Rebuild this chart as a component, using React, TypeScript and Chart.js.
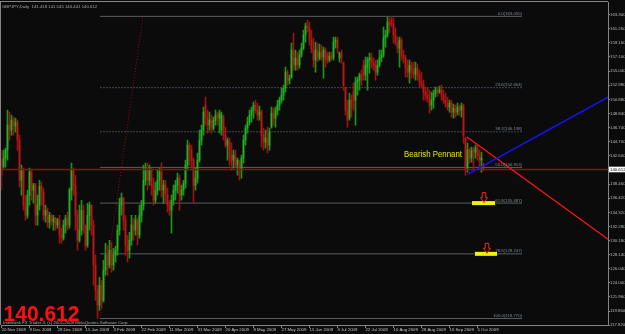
import React, { useEffect, useRef } from 'react';
import { Chart, registerables } from 'chart.js';

Chart.register(...registerables);

// ---- GBPJPY daily candles ----
const opens = [
  141.98, 141.10, 142.28, 143.45, 147.12, 146.38, 147.85, 146.97, 147.56, 144.91,
  139.04, 140.51, 135.38, 133.91, 136.85, 140.22, 137.58, 138.31, 133.91, 135.38,
  138.16, 137.29, 133.91, 134.64, 132.89, 133.91, 132.89, 133.47, 132.45, 133.18,
  130.98, 130.54, 132.45, 133.47, 132.45, 137.58, 140.51, 138.31, 133.91, 130.24,
  131.71, 134.64, 132.45, 129.51, 133.91, 135.38, 132.45, 126.58, 122.91, 120.71,
  123.64, 121.44, 125.84, 128.05, 126.58, 128.78, 126.58, 128.05, 128.78, 131.71,
  135.38, 136.41, 133.18, 129.51, 128.78, 130.24, 132.45, 131.71, 133.18, 130.98,
  133.91, 135.38, 139.04, 140.51, 139.04, 140.51, 138.31, 136.11, 137.58, 139.04,
  140.22, 137.58, 138.31, 136.85, 135.38, 134.64, 136.11, 137.58, 138.31, 139.34,
  136.85, 137.58, 138.60, 141.25, 144.18, 143.45, 141.98, 138.31, 139.34, 141.98,
  144.91, 146.38, 150.05, 148.14, 147.12, 147.85, 146.68, 147.85, 148.58, 148.14,
  146.38, 148.14, 145.65, 144.18, 144.62, 142.72, 141.98, 142.42, 141.25, 141.69,
  140.51, 142.28, 144.91, 146.68, 147.56, 148.58, 149.31, 150.05, 149.31, 148.58,
  149.02, 145.65, 144.62, 145.21, 144.18, 146.82, 148.87, 148.14, 149.31, 150.05,
  150.78, 151.52, 152.54, 154.89, 153.71, 154.15, 158.12, 155.92, 156.95, 155.92,
  157.39, 158.41, 160.32, 161.64, 161.35, 159.58, 158.12, 156.65, 158.12, 156.95,
  157.83, 157.09, 158.12, 157.39, 156.65, 157.24, 156.95, 159.29, 159.58, 156.95,
  157.68, 156.21, 152.54, 149.31, 148.14, 150.78, 151.96, 150.78, 153.42, 153.71,
  154.45, 155.92, 154.45, 155.48, 156.65, 157.09, 156.36, 155.92, 154.89, 155.92,
  156.95, 157.39, 159.88, 160.32, 162.23, 162.52, 161.93, 160.32, 159.29, 158.41,
  159.58, 157.39, 156.95, 155.48, 154.89, 155.92, 155.18, 154.59, 155.48, 154.45,
  153.42, 152.98, 151.96, 151.52, 151.08, 150.05, 150.78, 151.81, 152.25, 151.96,
  152.25, 151.52, 150.78, 150.19, 149.75, 150.34, 149.02, 149.61, 149.02, 149.75,
  149.31, 149.90, 145.21, 140.81, 143.45, 142.28, 143.45, 143.16, 143.74, 142.72,
  141.98, 141.418,
];
const highs = [
  143.45, 143.45, 143.74, 149.31, 149.02, 148.58, 148.28, 148.14, 147.85, 145.65,
  141.25, 140.81, 136.85, 137.58, 140.81, 140.51, 138.60, 138.60, 136.85, 139.04,
  138.75, 137.87, 135.38, 134.94, 134.35, 134.05, 133.91, 133.61, 133.47, 133.91,
  132.01, 133.18, 133.91, 134.35, 137.87, 141.54, 140.81, 139.78, 134.64, 135.38,
  136.11, 135.38, 132.45, 135.67, 135.82, 135.38, 133.18, 128.05, 123.64, 124.81,
  124.37, 127.31, 129.80, 129.51, 130.24, 129.95, 129.07, 129.36, 132.45, 136.41,
  137.14, 136.55, 133.91, 130.98, 131.42, 133.91, 133.47, 133.91, 133.47, 135.38,
  136.11, 141.25, 141.54, 141.54, 141.25, 140.81, 139.34, 138.75, 140.51, 140.81,
  141.54, 139.04, 139.04, 137.87, 136.11, 136.85, 138.31, 139.04, 140.07, 139.78,
  138.31, 139.04, 141.98, 144.91, 144.47, 144.18, 142.28, 140.81, 143.01, 146.38,
  147.12, 149.75, 151.22, 149.31, 149.02, 148.58, 148.28, 149.31, 149.02, 149.31,
  149.02, 148.58, 146.82, 145.21, 145.21, 144.47, 143.45, 143.45, 142.28, 141.98,
  142.72, 145.65, 147.12, 148.28, 149.31, 149.75, 150.49, 150.78, 150.34, 149.90,
  149.31, 146.68, 146.38, 146.82, 146.68, 149.75, 149.61, 149.75, 150.78, 151.22,
  152.54, 152.98, 155.62, 155.18, 154.45, 159.14, 160.61, 158.12, 157.83, 158.12,
  159.14, 161.05, 162.08, 162.52, 162.23, 161.05, 159.88, 159.29, 159.14, 158.99,
  158.85, 158.55, 158.41, 157.83, 157.83, 157.83, 160.02, 160.02, 160.02, 157.83,
  158.12, 156.36, 152.68, 150.78, 151.81, 151.52, 153.27, 154.15, 154.15, 154.74,
  155.18, 156.65, 157.09, 157.09, 157.68, 157.68, 156.95, 156.65, 156.65, 158.12,
  158.12, 161.49, 161.05, 162.95, 162.81, 163.06, 162.81, 161.35, 160.02, 160.02,
  159.88, 158.12, 157.39, 156.65, 156.65, 156.36, 156.36, 156.36, 156.06, 155.18,
  154.89, 153.71, 152.68, 152.54, 152.25, 151.96, 152.25, 152.68, 152.68, 152.83,
  152.98, 152.25, 151.81, 151.22, 150.78, 150.78, 150.19, 150.05, 150.34, 150.05,
  150.34, 150.19, 145.35, 144.47, 143.74, 143.88, 143.88, 144.18, 144.18, 143.45,
  143.16, 141.545,
];
const lows = [
  137.58, 140.81, 140.95, 141.98, 144.91, 145.65, 145.65, 146.09, 143.45, 138.01,
  136.85, 134.64, 133.18, 133.47, 135.38, 136.11, 135.67, 132.45, 132.45, 134.64,
  135.38, 133.18, 132.89, 132.15, 132.01, 132.45, 131.71, 131.71, 132.01, 129.80,
  129.80, 130.24, 131.27, 131.71, 132.01, 136.11, 136.85, 131.71, 128.78, 129.95,
  130.98, 131.27, 128.78, 129.21, 131.71, 130.98, 123.64, 121.44, 118.77, 119.97,
  120.27, 121.15, 125.11, 125.11, 126.14, 125.55, 125.84, 127.02, 128.05, 130.98,
  133.91, 131.71, 128.05, 127.02, 127.61, 129.51, 130.24, 130.98, 129.51, 130.54,
  132.89, 134.64, 138.31, 137.58, 138.31, 136.85, 135.38, 135.67, 136.85, 137.58,
  136.55, 135.67, 135.67, 134.35, 133.91, 131.27, 135.38, 136.11, 137.14, 134.64,
  136.11, 136.85, 137.87, 140.51, 141.25, 140.81, 135.67, 137.58, 138.60, 141.69,
  144.18, 145.65, 147.12, 145.94, 146.38, 145.94, 146.38, 147.12, 147.12, 145.94,
  145.65, 144.91, 143.88, 141.98, 141.25, 140.51, 140.81, 140.95, 139.78, 139.04,
  139.34, 141.54, 144.18, 145.94, 147.12, 147.56, 148.14, 148.87, 147.85, 147.85,
  143.88, 143.45, 143.74, 143.01, 143.45, 146.68, 147.12, 146.82, 148.58, 149.31,
  150.34, 150.78, 151.96, 152.98, 153.12, 154.01, 155.18, 155.18, 155.18, 155.48,
  157.09, 158.12, 159.29, 160.76, 158.85, 157.68, 155.62, 154.89, 156.36, 156.65,
  156.65, 154.01, 155.62, 156.21, 156.36, 156.65, 156.65, 158.41, 157.68, 156.36,
  156.21, 152.25, 148.58, 146.82, 147.85, 148.28, 149.31, 147.12, 151.52, 152.25,
  152.98, 153.71, 153.71, 152.25, 154.74, 155.48, 155.18, 153.71, 154.45, 155.62,
  156.36, 157.09, 158.55, 160.02, 160.61, 161.49, 159.14, 158.85, 157.68, 155.62,
  156.65, 156.21, 154.15, 154.15, 153.27, 154.01, 154.01, 153.71, 153.71, 152.68,
  152.54, 150.78, 150.78, 150.49, 148.87, 149.31, 149.61, 151.22, 151.37, 151.81,
  150.78, 150.34, 149.75, 149.31, 149.02, 148.28, 148.14, 148.28, 148.58, 148.58,
  148.28, 144.47, 139.78, 140.22, 141.54, 141.69, 140.51, 142.28, 141.98, 140.81,
  140.22, 140.441,
];
const closes = [
  139.78, 142.28, 143.45, 147.12, 146.38, 147.85, 146.97, 147.56, 144.91, 139.04,
  140.51, 135.38, 133.91, 136.85, 140.22, 137.58, 138.31, 133.91, 135.38, 138.16,
  137.29, 133.91, 134.64, 132.89, 133.91, 133.18, 133.47, 132.45, 133.18, 130.98,
  130.54, 132.45, 133.47, 132.45, 137.58, 140.51, 138.31, 133.91, 130.24, 131.71,
  134.64, 132.45, 129.51, 133.91, 135.38, 132.45, 126.58, 122.91, 120.71, 123.64,
  121.44, 125.84, 128.05, 126.58, 128.78, 126.58, 128.05, 128.78, 131.71, 135.38,
  136.41, 133.18, 129.51, 128.78, 130.24, 132.45, 131.71, 133.18, 130.98, 133.91,
  135.38, 139.04, 140.51, 139.04, 140.51, 138.31, 136.11, 137.58, 139.04, 140.22,
  137.58, 138.31, 136.85, 135.38, 134.64, 136.11, 137.58, 138.31, 139.34, 136.85,
  137.58, 138.60, 141.25, 144.18, 143.45, 141.98, 138.31, 139.34, 141.98, 144.91,
  146.38, 149.02, 148.14, 147.12, 147.85, 146.68, 147.85, 148.58, 148.14, 148.87,
  148.58, 145.65, 144.18, 144.91, 142.28, 141.69, 142.72, 141.25, 141.98, 140.81,
  142.28, 144.91, 146.68, 147.56, 148.58, 149.31, 150.05, 149.31, 148.58, 149.02,
  145.65, 144.62, 145.21, 144.18, 146.09, 148.87, 148.14, 149.31, 150.05, 150.78,
  151.52, 152.54, 154.89, 153.71, 154.01, 158.12, 155.92, 156.95, 155.92, 157.39,
  158.41, 160.32, 161.64, 161.35, 159.58, 158.12, 156.65, 158.12, 156.95, 157.83,
  157.09, 158.12, 156.65, 156.65, 157.24, 156.95, 159.29, 159.58, 158.41, 157.68,
  156.95, 152.98, 149.31, 147.85, 150.78, 149.61, 150.78, 153.42, 153.71, 154.45,
  153.71, 154.45, 155.92, 156.65, 156.95, 156.36, 155.77, 154.89, 155.92, 156.95,
  157.39, 159.88, 160.32, 162.23, 161.79, 161.93, 160.32, 159.29, 158.41, 159.58,
  157.39, 156.95, 155.48, 154.89, 155.92, 155.18, 154.59, 155.48, 154.45, 153.42,
  152.98, 151.96, 151.52, 151.08, 150.05, 150.78, 151.81, 152.25, 151.96, 152.25,
  151.52, 150.78, 150.19, 149.75, 150.34, 149.02, 149.61, 149.02, 149.75, 149.31,
  149.90, 145.65, 140.81, 143.45, 142.28, 143.45, 143.16, 143.74, 142.72, 141.98,
  142.28, 140.612,
];

// ---- axes ----
const dateLabels = [
  '20 Nov 2008', '9 Dec 2008', '28 Dec 2008', '15 Jan 2009', '3 Feb 2009', '22 Feb 2009',
  '11 Mar 2009', '31 Mar 2009', '20 Apr 2009', '8 May 2009', '27 May 2009', '15 Jun 2009',
  '3 Jul 2009', '22 Jul 2009', '10 Aug 2009', '28 Aug 2009', '16 Sep 2009', '5 Oct 2009',
];
const dateBars = [0, 14, 28, 42, 56, 70, 84, 98, 112, 126, 140, 154, 168, 182, 196, 210, 224, 238];
const priceTicks = [
  163.3, 161.26, 159.16, 157.1, 155.04, 152.98, 150.88, 148.84, 146.74, 144.7, 142.6,
  138.46, 136.42, 134.32, 132.28, 130.18, 128.14, 126.04, 124.0, 121.96, 119.86, 117.82,
];
const priceMin = 117.82;
const priceMax = 165.16;
const barMax = 303.25;

// ---- objects ----
const lastPrice = 140.612;
const fibLevels = [163.055, 152.604, 146.138, 140.913, 135.687, 128.247, 118.77];
const fibNames = [
  '0.0(163.055)', '23.6(152.604)', '38.2(146.138)', '50.0(140.913)',
  '61.8(135.687)', '78.6(128.247)', '100.0(118.770)',
];
const fibDotted = [false, true, true, false, false, false, false];
const fibFrom = 49.25;
const fibTo = 260.25;
const fibAnchor = [{ x: 49.25, y: 118.77 }, { x: 70.75, y: 163.055 }];
const blueTrend = [{ x: 233.25, y: 139.93 }, { x: 303.25, y: 151.22 }];
const redTrend = [{ x: 232.75, y: 145.36 }, { x: 303.25, y: 130.39 }];
const boxLevels = [135.687, 128.247];
const boxBars = [[235.25, 246.75], [236.75, 247.75]];
const arrowBars = [241.25, 242.75];

const FONT = "'Liberation Sans', Arial, sans-serif";
const BULL = '#27b027';
const BULL_WICK = '#1f951f';
const BEAR = '#b81818';
const BEAR_WICK = '#9a1414';
const SMALL = 4.3;

export default function App() {
  const ref = useRef<HTMLCanvasElement>(null);

  useEffect(() => {
    document.body.style.margin = '0';
    document.body.style.background = '#0b0b0b';
    const canvas = ref.current;
    if (!canvas) return;

    const up = closes.map((c, i) => c >= opens[i]);
    const wicks = lows.map((l, i) => ({ x: i, y: [l, highs[i]] }));
    const bodies = opens.map((o, i) => ({ x: i, y: [o, closes[i]] }));

    const background = {
      id: 'bg',
      beforeDraw(chart: any) {
        const { ctx, width, height } = chart;
        ctx.save();
        ctx.fillStyle = '#0b0b0b';
        ctx.fillRect(0, 0, width, height);
        ctx.restore();
      },
    };

    const overlay = {
      id: 'overlay',
      afterDraw(chart: any) {
        const { ctx, chartArea } = chart;
        const xs = chart.scales.x;
        const ys = chart.scales.y;
        ctx.save();

        // frame
        ctx.strokeStyle = '#858585';
        ctx.lineWidth = 1;
        ctx.beginPath();
        ctx.moveTo(0, 1.5);
        ctx.lineTo(chartArea.right, 1.5);
        ctx.moveTo(0.5, 1.5);
        ctx.lineTo(0.5, chartArea.bottom);
        ctx.stroke();

        // yellow boxes
        ctx.fillStyle = '#f2f200';
        boxLevels.forEach((lv, k) => {
          const x0 = xs.getPixelForValue(boxBars[k][0]);
          const x1 = xs.getPixelForValue(boxBars[k][1]);
          const y = ys.getPixelForValue(lv);
          ctx.fillRect(x0, y - 2, x1 - x0, 4);
        });

        // red hollow arrows
        ctx.strokeStyle = '#ff2020';
        ctx.lineWidth = 1;
        boxLevels.forEach((lv, k) => {
          const cx = xs.getPixelForValue(arrowBars[k]);
          const tip = ys.getPixelForValue(lv) - 0.5;
          const top = tip - 10;
          ctx.beginPath();
          ctx.moveTo(cx - 1.8, top);
          ctx.lineTo(cx + 1.8, top);
          ctx.lineTo(cx + 1.8, top + 5);
          ctx.lineTo(cx + 3.5, top + 5);
          ctx.lineTo(cx, tip);
          ctx.lineTo(cx - 3.5, top + 5);
          ctx.lineTo(cx - 1.8, top + 5);
          ctx.closePath();
          ctx.stroke();
        });

        // fib labels
        ctx.font = `${SMALL}px ${FONT}`;
        ctx.fillStyle = '#7f8a98';
        ctx.textAlign = 'right';
        ctx.textBaseline = 'alphabetic';
        const lx = xs.getPixelForValue(fibTo);
        fibLevels.forEach((lv, k) => {
          ctx.fillText(fibNames[k], lx, ys.getPixelForValue(lv) - 1.5);
        });

        // pattern label
        ctx.textAlign = 'left';
        ctx.fillStyle = '#e6e600';
        ctx.font = `8.5px ${FONT}`;
        ctx.fillText('Bearish Pennant', 404, 157, 58);

        // title
        ctx.font = `${SMALL}px ${FONT}`;
        ctx.fillStyle = '#a8a8a8';
        ctx.fillText('GBPJPY,Daily  141.418 141.545 140.441 140.612', 2, 7.5);

        // big price
        ctx.fillStyle = '#ff1010';
        ctx.font = `bold 21.5px ${FONT}`;
        ctx.fillText('140.612', 3.5, 320.5, 76);

        // copyright
        ctx.font = `${SMALL}px ${FONT}`;
        ctx.fillStyle = '#a8a8a8';
        ctx.fillText('Interbank FX Trader 4, (c) 2001-2009 MetaQuotes Software Corp.', 3, 324, 128);

        // price box on the axis
        const py = ys.getPixelForValue(lastPrice);
        ctx.fillStyle = '#ffffff';
        ctx.fillRect(chartArea.right + 1, py - 2.8, 20, 5.6);
        ctx.fillStyle = '#000000';
        ctx.textBaseline = 'middle';
        ctx.fillText(lastPrice.toFixed(3), chartArea.right + 2, py + 0.2);

        ctx.restore();
      },
    };

    const lineDs = (data: any[], color: string, width: number, dash: number[], order: number) => ({
      type: 'line' as const,
      data,
      borderColor: color,
      borderWidth: width,
      borderDash: dash,
      pointRadius: 0,
      fill: false,
      tension: 0,
      order,
    });

    const datasets: any[] = [
      {
        type: 'bar',
        data: wicks,
        backgroundColor: up.map((u) => (u ? BULL_WICK : BEAR_WICK)),
        borderWidth: 0,
        barThickness: 1,
        grouped: false,
        order: 3,
      },
      {
        type: 'bar',
        data: bodies,
        backgroundColor: up.map((u) => (u ? BULL : BEAR)),
        borderWidth: 0,
        barThickness: 1,
        minBarLength: 1,
        grouped: false,
        order: 2,
      },
      ...fibLevels.map((lv, k) =>
        lineDs(
          [{ x: fibFrom, y: lv }, { x: fibTo, y: lv }],
          fibDotted[k] ? '#454852' : '#5a5e5f',
          1,
          fibDotted[k] ? [2, 1] : [],
          6,
        ),
      ),
      lineDs(fibAnchor, '#8a1010', 1, [1, 2], 5),
      lineDs([{ x: 0, y: lastPrice }, { x: barMax, y: lastPrice }], '#8c1212', 1.5, [], 1),
      lineDs(blueTrend, '#1414ff', 1.4, [], 0),
      lineDs(redTrend, '#ff1414', 1.3, [], 0),
    ];

    const chart = new Chart(canvas, {
      type: 'bar',
      data: { datasets },
      options: {
        responsive: false,
        animation: false,
        devicePixelRatio: 1,
        layout: { padding: { top: 2, left: 1.5, right: 0, bottom: 0 } },
        plugins: { legend: { display: false }, tooltip: { enabled: false } },
        scales: {
          x: {
            type: 'linear',
            min: 0,
            max: barMax,
            offset: false,
            grid: { display: true, offset: false, drawOnChartArea: false, drawTicks: true, tickLength: 3, color: '#8a8a8a' },
            border: { display: true, color: '#858585' },
            ticks: {
              align: 'start',
              autoSkip: false,
              maxRotation: 0,
              padding: -1,
              color: '#c4c4c4',
              font: { family: FONT, size: SMALL },
              callback: (_v: any, i: number) => dateLabels[i],
            },
            afterBuildTicks: (s: any) => {
              s.ticks = dateBars.map((v) => ({ value: v }));
            },
            afterFit: (s: any) => {
              s.height = 9;
              s.paddingLeft = 0;
              s.paddingRight = 0;
            },
          },
          y: {
            type: 'linear',
            position: 'right',
            min: priceMin,
            max: priceMax,
            grid: { display: true, drawOnChartArea: false, drawTicks: true, tickLength: 2, color: '#8a8a8a' },
            border: { display: true, color: '#858585' },
            ticks: {
              padding: 0,
              color: '#b8b8b8',
              font: { family: FONT, size: SMALL },
              callback: (v: any) => Number(v).toFixed(3),
            },
            afterBuildTicks: (s: any) => {
              s.ticks = priceTicks.map((v) => ({ value: v }));
            },
            afterFit: (s: any) => {
              s.width = 17;
              s.paddingTop = 0;
              s.paddingBottom = 0;
            },
          },
        },
      } as any,
      plugins: [background, overlay],
    });

    return () => chart.destroy();
  }, []);

  return <canvas ref={ref} width={625} height={334} style={{ display: 'block' }} />;
}
